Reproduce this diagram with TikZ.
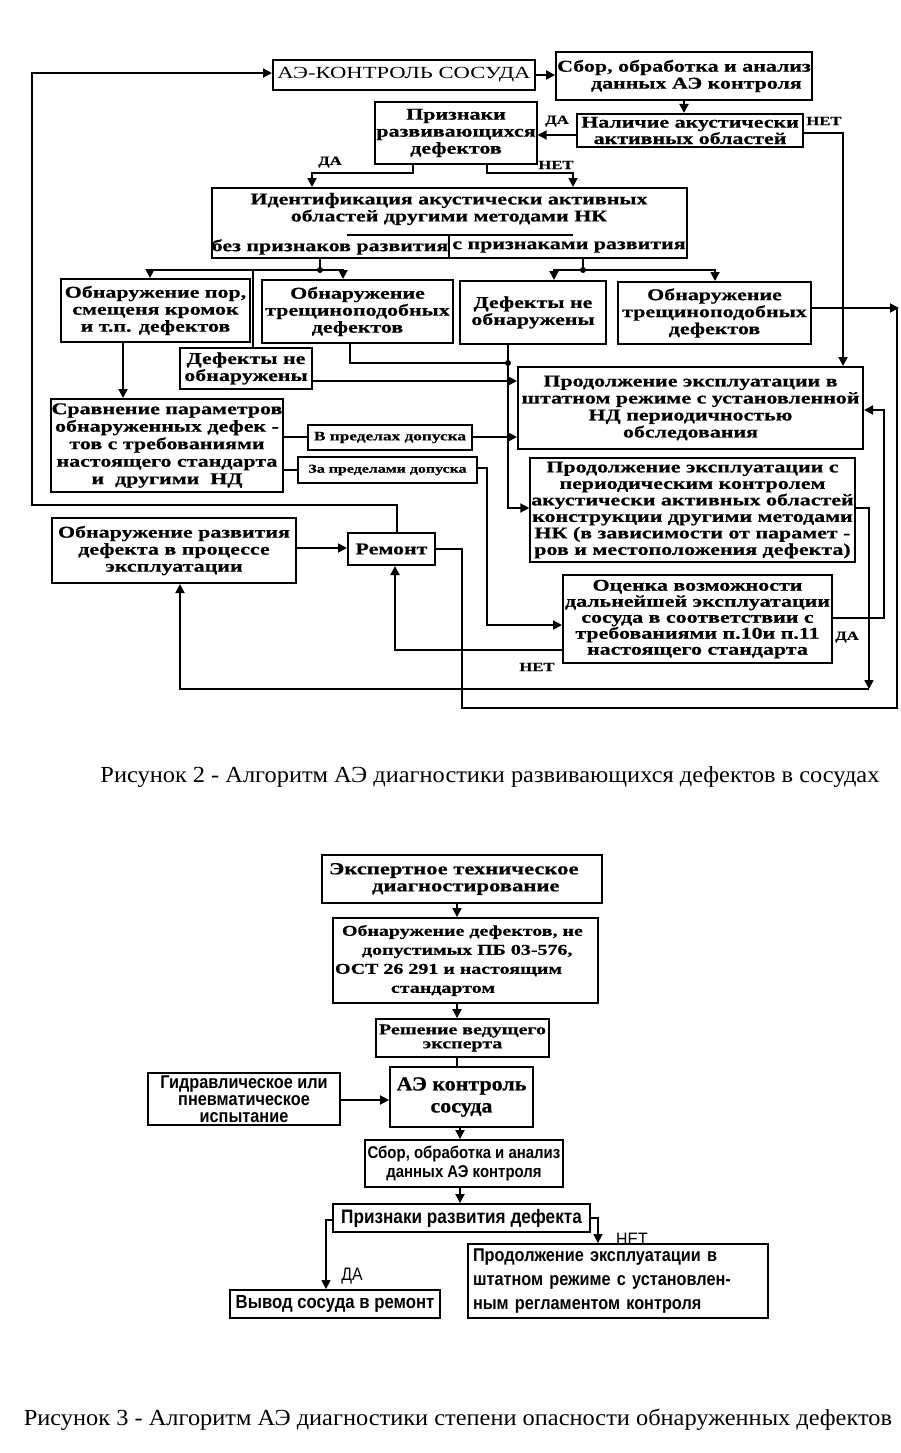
\documentclass[tikz,border=0pt]{standalone}
\usepackage{fontspec}
\setmainfont{Liberation Serif}
\newfontfamily\wserif[FakeStretch=1.33, BoldFeatures={FakeBold=0.6}]{Liberation Serif}
\newfontfamily\mserif[FakeStretch=1.1, BoldFeatures={FakeBold=0.6}]{Liberation Serif}
\newfontfamily\nsans[FakeStretch=0.88]{Liberation Sans}
\newfontfamily\capfont[FakeStretch=1.06]{Liberation Serif}
\usetikzlibrary{arrows.meta}
\begin{document}
\begin{tikzpicture}[x=1pt,y=-1pt,
  box/.style={draw, line width=2pt, inner sep=1pt, align=center,
    font=\wserif\bfseries\fontsize{16.5}{17}\selectfont},
  sbox/.style={draw, line width=1.8pt, inner sep=1pt, align=center,
    font=\nsans\bfseries\fontsize{17}{19}\selectfont},
  txt/.style={inner sep=0pt, align=center, font=\wserif\bfseries\fontsize{16.5}{17}\selectfont},
  conn/.style={line width=1.8pt},
  arr/.style={conn, -{Triangle[length=9pt,width=9pt]}},
  lbl/.style={inner sep=0pt, font=\wserif\bfseries\fontsize{12.5}{12}\selectfont},
  dot/.style={circle, fill, inner sep=0pt, minimum size=6pt}]
\useasboundingbox (0,0) rectangle (900,1453);

% ---------------- Figure 2 ----------------
\node[box, minimum width=262, minimum height=30, font=\wserif\fontsize{17}{17}\selectfont] (ae) at (404,75) {АЭ-КОНТРОЛЬ СОСУДА};
\node[box, minimum width=254, minimum height=48] (sbor) at (684,76) {Сбор, обработка и анализ\\\hspace*{1.5em}данных АЭ контроля};
\node[box, minimum width=226, minimum height=33, font=\wserif\bfseries\fontsize{16.5}{15}\selectfont] (nal) at (690,130.5) {Наличие акустически\\активных областей};
\node[box, minimum width=156, minimum height=62] (priz) at (456,133) {Признаки\\развивающихся\\дефектов};
\node[box, minimum width=475, minimum height=70] (ident) at (449.5,223) {};
\node[txt] (identt) at (449,209) {Идентификация акустически активных\\областей другими методами НК};
\node[txt] (bez) at (330,247) {без признаков развития};
\node[txt] (spr) at (569,247) {с признаками развития};
\draw[line width=1.6pt] (347,235) -- (573,235);
\draw[line width=1.6pt] (449,235) -- (449,258);

\node[box, minimum width=189, minimum height=63] (por) at (155.5,310.5) {Обнаружение пор,\\смещеня кромок\\и т.п. дефектов};
\node[box, minimum width=191, minimum height=63] (tr1) at (357.5,311.5) {Обнаружение\\трещиноподобных\\дефектов};
\node[box, minimum width=132, minimum height=41] (dn1) at (246,368.5) {Дефекты не\\обнаружены};
\node[box, minimum width=232, minimum height=93, font=\wserif\bfseries\fontsize{16.5}{17.5}\selectfont] (srav) at (167,445.5) {Сравнение параметров\\обнаруженных дефек -\\тов с требованиями\\настоящего стандарта\\и\ \ другими\ \ НД};
\node[box, minimum width=164, minimum height=25, font=\wserif\bfseries\fontsize{13}{13}\selectfont] (vpr) at (390,437.5) {В пределах допуска};
\node[box, minimum width=179, minimum height=26, font=\wserif\bfseries\fontsize{12}{12}\selectfont] (zapr) at (387.5,470) {За пределами допуска};
\node[box, minimum width=146, minimum height=63] (dn2) at (533,312.5) {Дефекты не\\обнаружены};
\node[box, minimum width=193, minimum height=62] (tr2) at (714.5,313) {Обнаружение\\трещиноподобных\\дефектов};
\node[box, minimum width=345, minimum height=82] (prod1) at (690.5,408) {Продолжение эксплуатации в\\штатном режиме с установленной\\НД периодичностью\\обследования};
\node[box, minimum width=321, minimum height=104, font=\wserif\bfseries\fontsize{16.5}{16.5}\selectfont] (prod2) at (692.5,510) {Продолжение эксплуатации с\\периодическим контролем\\акустически активных областей\\конструкции другими методами\\НК (в зависимости от парамет -\\ров и местоположения дефекта)};
\node[box, minimum width=269, minimum height=88, font=\wserif\bfseries\fontsize{16.5}{16}\selectfont] (ocen) at (697.5,619) {Оценка возможности\\дальнейшей эксплуатации\\сосуда в соответствии с\\требованиями п.10и п.11\\настоящего стандарта};
\node[box, minimum width=244, minimum height=65] (obr) at (174,550.5) {Обнаружение развития\\дефекта в процессе\\эксплуатации};
\node[box, minimum width=87, minimum height=32] (rem) at (391.5,549) {Ремонт};

% connectors
\draw[arr] (ae.east) -- (ae.east -| sbor.west);
\draw[arr] (sbor.south) -- (sbor.south |- nal.north);
\draw[arr] (nal.west |- 0,135) -- (priz.east |- 0,135);
\node[lbl] (da1) at (557,121) {ДА};
\draw[arr] (nal.east |- 0,133) -| (prod1.north -| 843,0);
\node[lbl] (net1) at (824,121) {НЕТ};
\draw[arr] (priz.south -| 413,0) -- (413,173) -| (ident.north -| 312,0);
\node[lbl] (da2) at (330,162) {ДА};
\draw[arr] (priz.south -| 487,0) -- (487,173) -| (ident.north -| 573,0);
\node[lbl] (net2) at (556,165) {НЕТ};

\coordinate (j1) at (320,270);
\coordinate (j2) at (583,270);
\coordinate (j3) at (508,363);
\draw[conn] (ident.south -| j1) -- (j1);
\draw[arr] (j1) -| (por.north -| 150,0);
\draw[arr] (j1) -| (tr1.north -| 343,0);
\draw[conn] (j1 -| 253,0) -- (dn1.north -| 253,0);
\node[dot] at (j1) {};
\draw[conn] (ident.south -| j2) -- (j2);
\draw[arr] (j2) -| (dn2.north -| 554,0);
\draw[arr] (j2) -| (tr2.north -| 715,0);
\node[dot] at (j2) {};

\draw[arr] (por.south -| 123,0) -- (srav.north -| 123,0);
\draw[conn] (tr1.south -| 350,0) |- (j3);
\node[dot] at (j3) {};
\draw[arr] (dn2.south -| j3) |- (prod2.west |- 0,508);
\draw[arr] (dn1.east |- 0,381) -- (prod1.west |- 0,381);
\draw[conn] (srav.east |- 0,437) -- (vpr.west |- 0,437);
\draw[arr] (vpr.east |- 0,437) -- (prod1.west |- 0,437);
\draw[conn] (srav.east |- 0,470) -- (zapr.west |- 0,470);
\draw[arr] (zapr.east |- 0,468) -- (487,468) |- (ocen.west |- 0,625);

\coordinate (rt) at (899,308);
\draw[arr] (tr2.east |- rt) -- (rt);
\draw[conn] (rem.east |- 0,549) -- (462,549) |- (897,708) -- (897,308);
\draw[arr] (rem.north -| 397,0) -- (397,505) -| (32,73) -- (ae.west |- 0,73);
\draw[arr] (obr.east |- 0,548) -- (rem.west |- 0,548);
\draw[arr] (ocen.west |- 0,650) -| (rem.south -| 395,0);
\node[lbl] (net3) at (537,667) {НЕТ};
\draw[arr] (ocen.east |- 0,618) -- (884,618) |- (prod1.east |- 0,410);
\node[lbl] (da3) at (847,637) {ДА};
\coordinate (bc) at (869,689);
\draw[arr] (prod2.east |- 0,508) -| (bc);
\draw[arr] (bc) -| (obr.south -| 180,0);

\node[inner sep=0pt, font=\capfont\fontsize{23}{23}\selectfont] (cap1) at (490,777) {Рисунок 2 - Алгоритм АЭ диагностики развивающихся дефектов в сосудах};

% ---------------- Figure 3 ----------------
\node[box, minimum width=280, minimum height=48, line width=1.8pt, text width=276pt, align=left, font=\wserif\bfseries\fontsize{17}{17}\selectfont] (exp) at (462,879) {\hspace*{5pt}Экспертное техническое\\\hspace*{48pt}диагностирование};
\node[box, minimum width=265, minimum height=85, line width=1.8pt, text width=261pt, align=left, font=\wserif\bfseries\fontsize{15}{19}\selectfont] (obd) at (465.5,960.5) {\hspace*{7pt}Обнаружение дефектов, не\\\hspace*{27pt}допустимых ПБ 03-576,\\ОСТ 26 291 и настоящим\\\hspace*{56pt}стандартом};
\node[box, minimum width=173, minimum height=38, line width=1.8pt, font=\wserif\bfseries\fontsize{15}{14}\selectfont] (resh) at (462.5,1038) {Решение ведущего\\эксперта};
\node[sbox, minimum width=192, minimum height=52, font=\nsans\bfseries\fontsize{18.5}{17}\selectfont] (gidr) at (244,1099) {Гидравлическое или\\пневматическое\\испытание};
\node[box, minimum width=143, minimum height=60, line width=1.8pt, font=\mserif\bfseries\fontsize{20}{22}\selectfont] (aek) at (461.5,1097) {АЭ контроль\\сосуда};
\node[sbox, minimum width=198, minimum height=47] (sb2) at (464,1163.5) {Сбор, обработка и анализ\\данных АЭ контроля};
\node[sbox, minimum width=257, minimum height=28, font=\nsans\bfseries\fontsize{19.5}{19}\selectfont] (pr2) at (461.5,1218) {Признаки развития дефекта};
\node[sbox, minimum width=300, minimum height=74, text width=290pt, align=left, font=\nsans\bfseries\fontsize{18.5}{24}\selectfont] (cont) at (618,1281) {Продолжение эксплуатации в\\штатном режиме с установлен-\\ным регламентом контроля};
\node[sbox, minimum width=210, minimum height=28, font=\nsans\bfseries\fontsize{19}{19}\selectfont] (vyv) at (335,1304) {Вывод сосуда в ремонт};

\draw[arr] (exp.south -| 457,0) -- (obd.north -| 457,0);
\draw[arr] (obd.south -| 457,0) -- (resh.north -| 457,0);
\draw[conn] (resh.south -| 457,0) -- (aek.north -| 457,0);
\draw[arr] (gidr.east |- 0,1100) -- (aek.west |- 0,1100);
\draw[arr] (aek.south -| 460,0) -- (sb2.north -| 460,0);
\draw[arr] (sb2.south -| 460,0) -- (pr2.north -| 460,0);
\draw[arr, line width=1.4pt] (pr2.west |- 0,1220) -| (vyv.north -| 326,0);
\draw[arr, line width=1.4pt] (pr2.east |- 0,1218) -| (cont.north -| 598,0);
\node[inner sep=0pt, font=\nsans\fontsize{18}{18}\selectfont] (da4) at (352,1276) {ДА};
\node[inner sep=0pt, font=\nsans\fontsize{18}{18}\selectfont] (net4) at (632,1239) {НЕТ};

\node[inner sep=0pt, font=\capfont\fontsize{23}{23}\selectfont] (cap2) at (458,1420) {Рисунок 3 - Алгоритм АЭ диагностики степени опасности обнаруженных дефектов};
\end{tikzpicture}
\end{document}
